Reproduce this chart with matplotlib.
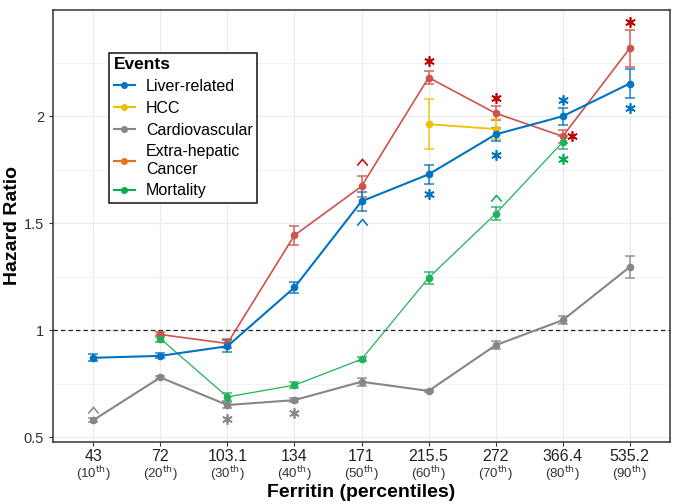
import numpy as np
import matplotlib
matplotlib.use("Agg")
import matplotlib.pyplot as plt
from matplotlib.lines import Line2D
from matplotlib.path import Path

plt.rcParams['font.family'] = ['Liberation Sans', 'DejaVu Sans']

ferritin = ['43', '72', '103.1', '134', '171', '215.5', '272', '366.4', '535.2']
pct = ['10', '20', '30', '40', '50', '60', '70', '80', '90']
nan = np.nan

liver = [0.871, 0.880, 0.925, 1.200, 1.603, 1.729, 1.916, 2.001, 2.154]
liver_err = [0.016, 0.012, 0.027, 0.026, 0.043, 0.045, 0.030, 0.039, 0.066]
hcc = [nan, nan, nan, nan, nan, 1.964, 1.941, nan, nan]
hcc_err = [nan, nan, nan, nan, nan, 0.116, 0.047, nan, nan]
cardio = [0.579, 0.779, 0.650, 0.673, 0.759, 0.716, 0.930, 1.047, 1.296]
cardio_err = [0.010, 0.006, 0.012, 0.010, 0.018, 0.005, 0.020, 0.020, 0.050]
extra = [nan, 0.980, 0.938, 1.444, 1.673, 2.182, 2.015, 1.907, 2.319]
extra_err = [nan, 0.012, 0.020, 0.044, 0.049, 0.030, 0.033, 0.030, 0.086]
mort = [nan, 0.961, 0.688, 0.743, 0.864, 1.245, 1.545, 1.880, nan]
mort_err = [nan, 0.015, 0.018, 0.015, 0.010, 0.028, 0.031, 0.030, nan]

# significance marks: (x offset from category, category index, y, symbol, colour)
marks = [
    (0, 0, 0.628, '^', '#868686'), (0, 2, 0.585, '*', '#868686'), (0, 3, 0.613, '*', '#868686'),
    (0, 4, 1.787, '^', '#C00000'), (0, 4, 1.506, '^', '#0073C2'),
    (0, 5, 2.260, '*', '#C00000'), (0, 5, 1.636, '*', '#0073C2'),
    (0, 6, 2.086, '*', '#C00000'), (0, 6, 1.818, '*', '#0073C2'), (0, 6, 1.617, '^', '#00B050'),
    (0, 7, 2.075, '*', '#0073C2'), (0, 7, 1.800, '*', '#00B050'), (0.14, 7, 1.907, '*', '#C00000'),
    (0, 8, 2.440, '*', '#C00000'), (0, 8, 2.040, '*', '#0073C2'),
]

fig = plt.figure(figsize=(6.77, 5.04), dpi=100)
ax = fig.add_axes([0.0783, 0.123, 0.9114, 0.858])
x = np.arange(1, len(ferritin) + 1)

series = [
    (cardio, cardio_err, '#868686', 1.5),
    (extra, extra_err, '#CD534C', 1.2),
    (mort, mort_err, '#20B25A', 0.9),
    (hcc, hcc_err, '#EFC000', 1.3),
    (liver, liver_err, '#0073C2', 1.5),
]
for vals, errs, col, lw in series:
    v = np.array(vals, dtype=float)
    e = np.array(errs, dtype=float)
    m = ~np.isnan(v)
    ax.errorbar(x[m], v[m], yerr=e[m], fmt='none', ecolor=col, elinewidth=1.3,
                capsize=3.5, capthick=1.3, alpha=0.75, zorder=3)
    ax.plot(x[m], v[m], '-o', color=col, lw=lw, ms=4.5, zorder=4)

ax.axhline(1, color='#222222', ls=(0, (3.5, 2.5)), lw=0.9, zorder=2)

caret = Path([(-1, -0.6), (0, 0.6), (1, -0.6)], [Path.MOVETO, Path.LINETO, Path.LINETO])
for dx, i, yv, sym, col in marks:
    if sym == '*':
        ax.plot(x[i] + dx, yv, marker=(6, 2, 0), ms=7.5, mew=1.2, color=col, ls='none', zorder=5)
    else:
        ax.plot(x[i] + dx, yv, marker=caret, ms=7.5, mew=1.1, mfc='none', mec=col, ls='none', zorder=5)

ax.set_xlim(0.4, 9.6)
ax.set_ylim(0.477, 2.50)
ax.set_yticks([0.5, 1, 1.5, 2])
ax.set_yticklabels(['0.5', '1', '1.5', '2'], fontsize=10.5, color='#333333')
ax.set_yticks([0.75, 1.25, 1.75, 2.25], minor=True)
ax.set_xticks(x)
ax.set_xticklabels(ferritin, fontsize=11.5, color='#222222')
ax.tick_params(axis='y', which='minor', length=0)
ax.tick_params(axis='both', which='major', length=3, color='#333333')
ax.tick_params(axis='x', pad=2)
for i, p in enumerate(pct):
    ax.text(x[i], -0.074, '(' + p + '$^{\\mathrm{th}}$)', transform=ax.get_xaxis_transform(),
            ha='center', va='center', fontsize=9.5, color='#333333')

ax.grid(True, which='major', color='#EBEBEB', lw=0.9, zorder=0)
ax.grid(True, which='minor', axis='y', color='#F3F3F3', lw=0.7, zorder=0)
ax.set_axisbelow(True)
for s in ax.spines.values():
    s.set_color('#333333')
    s.set_linewidth(1.1)

ax.set_ylabel('Hazard Ratio', fontsize=14, fontweight='bold')
ax.yaxis.set_label_coords(-0.052, 0.5)
ax.set_xlabel('Ferritin (percentiles)', fontsize=14, fontweight='bold')
ax.xaxis.set_label_coords(0.5, -0.097)

handles = [
    Line2D([], [], color='#0073C2', marker='o', ms=4, lw=1.5),
    Line2D([], [], color='#EFC000', marker='o', ms=4, lw=1.5),
    Line2D([], [], color='#868686', marker='o', ms=4, lw=1.5),
    Line2D([], [], color='#E7701C', marker='o', ms=4, lw=1.5),
    Line2D([], [], color='#00B050', marker='o', ms=4, lw=1.5),
]
labels = ['Liver-related', 'HCC', 'Cardiovascular', 'Extra-hepatic\nCancer', 'Mortality']
leg = ax.legend(handles, labels, title='Events', loc='upper left',
                bbox_to_anchor=(0.078, 0.919), fontsize=11.5, handlelength=1.3,
                handletextpad=0.7, labelspacing=0.42, borderpad=0.3,
                fancybox=False, edgecolor='#111111', framealpha=1,
                alignment='left')
leg.get_title().set_fontweight('bold')
leg.get_title().set_fontsize(12.5)
leg.get_frame().set_linewidth(1.1)

fig.savefig('out.png', dpi=100)
